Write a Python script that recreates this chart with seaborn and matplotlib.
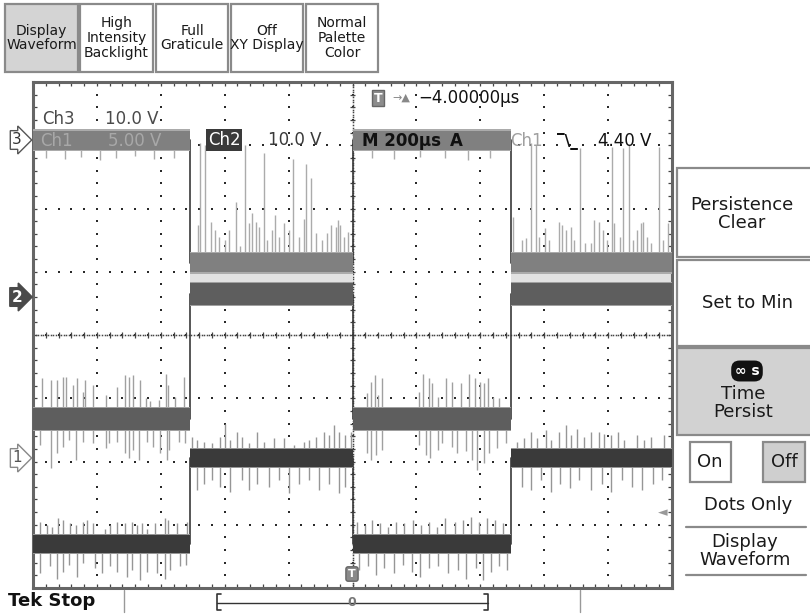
import numpy as np
import pandas as pd
import matplotlib
matplotlib.use("Agg")
import matplotlib.pyplot as plt
from matplotlib.patches import Rectangle
import seaborn as sns

sns.set_theme(style="white")
plt.rcParams['font.family'] = ['DejaVu Sans']

# --- data (time in us, amplitude in divisions) ---
seg_edges_us = [-1000, -510, 0, 495, 1000]
ch3_levels = [3.08, 1.14, 3.08, 1.14]
ch2_levels = [-1.33, 0.65, -1.33, 0.65]
ch1_levels = [-3.30, -1.94, -3.30, -1.94]

# spikes: (time us, tip in divisions)
ch3_spikes = [(-484, 1.74), (-476, 3.03), (-463, 3.00), (-442, 1.79), (-429, 1.66), (-419, 1.55),
              (-400, 1.50), (-388, 1.66), (-365, 2.11), (-351, 1.40), (-338, 3.00), (-325, 1.77),
              (-314, 1.93), (-302, 1.79), (-294, 1.71), (-278, 2.87), (-268, 1.50), (-252, 1.66),
              (-244, 1.90), (-231, 1.55), (-213, 1.77), (-200, 1.66), (-187, 2.79), (-168, 1.55),
              (-153, 1.84), (-145, 2.71), (-129, 2.48), (-114, 1.61), (-95, 1.50), (-79, 1.61),
              (-67, 1.74), (-53, 1.71), (-46, 1.82), (-38, 1.74), (-27, 1.55), (-15, 1.63),
              (501, 1.87), (530, 1.50), (544, 1.53), (558, 3.03), (574, 3.00), (584, 1.55),
              (603, 1.69), (616, 1.50), (647, 1.79), (655, 1.74), (668, 1.66), (683, 1.71),
              (694, 1.50), (712, 2.95), (728, 1.45), (746, 1.45), (757, 1.82), (772, 1.79),
              (785, 1.66), (798, 1.50), (812, 2.98), (819, 1.77), (837, 1.55), (848, 2.95),
              (864, 3.00), (877, 1.50), (889, 1.66), (903, 1.77), (908, 1.79), (921, 1.55),
              (934, 1.45), (958, 2.98), (971, 1.50), (987, 1.77),
              (-960, 2.80), (-900, 2.78), (-850, 2.82), (-790, 2.76), (-740, 2.80), (-680, 2.83),
              (-620, 2.78), (-560, 2.80), (60, 2.80), (130, 2.78), (210, 2.82), (290, 2.80),
              (360, 2.77), (430, 2.80)]

ch2_spikes = [(-973, -0.68), (-945, -0.71), (-924, -0.71), (-907, -0.66), (-897, -0.66), (-876, -0.79),
              (-863, -0.68), (-844, -0.90), (-837, -0.71), (-813, -0.79), (-771, -0.95), (-736, -0.82),
              (-712, -0.63), (-701, -0.66), (-688, -0.63), (-665, -0.71), (-646, -1.00), (-633, -1.05),
              (-607, -1.03), (-583, -0.61), (-576, -0.79), (-555, -0.98), (-527, -0.66),
              (-978, -1.74), (-945, -2.11), (-924, -1.87), (-907, -1.77), (-886, -1.66), (-865, -1.98),
              (-842, -1.69), (-813, -1.71), (-771, -1.79), (-761, -1.71), (-736, -1.69), (-712, -1.87),
              (-698, -1.95), (-686, -1.82), (-667, -1.98), (-642, -1.69), (-625, -1.77), (-602, -1.87),
              (-581, -1.98), (-573, -1.82), (-544, -1.69), (-524, -1.71),
              (46, -0.92), (58, -0.74), (69, -0.63), (79, -0.95), (93, -0.68), (208, -0.90),
              (222, -0.61), (239, -0.68), (250, -0.76), (268, -0.98), (292, -0.68), (312, -0.74),
              (339, -0.76), (365, -0.61), (382, -0.68), (399, -0.74), (412, -0.76), (424, -0.68),
              (441, -0.98), (459, -1.00),
              (46, -1.87), (58, -1.98), (75, -1.90), (93, -1.82), (208, -1.74), (229, -1.90),
              (244, -1.95), (268, -1.82), (281, -1.71), (312, -1.77), (328, -1.87), (354, -1.84),
              (375, -1.98), (391, -2.13), (412, -2.03), (427, -1.87), (453, -1.79), (480, -1.71)]

ch1_spikes = [(-503, -1.61), (-487, -1.66), (-466, -1.69), (-440, -1.71), (-414, -1.61), (-398, -1.40),
              (-382, -1.66), (-362, -1.53), (-346, -1.61), (-325, -1.71), (-299, -1.53), (-278, -1.69),
              (-247, -1.63), (-215, -1.63), (-184, -1.74), (-153, -1.69), (-137, -1.66), (-113, -1.61),
              (-90, -1.53), (-74, -1.58), (-58, -1.42), (-43, -1.53), (-22, -1.58), (-6, -1.53),
              (-487, -2.45), (-466, -2.35), (-440, -2.30), (-414, -2.40), (-382, -2.48), (-346, -2.30),
              (-325, -2.45), (-299, -2.35), (-262, -2.40), (-231, -2.30), (-200, -2.50), (-168, -2.35),
              (-137, -2.30), (-105, -2.45), (-74, -2.35), (-43, -2.50), (-22, -2.40),
              (516, -1.69), (537, -1.63), (558, -1.53), (579, -1.63), (605, -1.50), (621, -1.66),
              (647, -1.53), (668, -1.42), (683, -1.58), (704, -1.48), (725, -1.61), (746, -1.53),
              (772, -1.53), (788, -1.56), (809, -1.58), (830, -1.53), (851, -1.66), (890, -1.58),
              (913, -1.66), (934, -1.61), (976, -1.58),
              (530, -2.40), (560, -2.45), (590, -2.30), (620, -2.48), (650, -2.35), (680, -2.42),
              (710, -2.30), (745, -2.45), (780, -2.35), (810, -2.48), (845, -2.30), (875, -2.40),
              (905, -2.45), (940, -2.35), (970, -2.30),
              (-978, -2.95), (-957, -3.00), (-942, -3.03), (-921, -2.90), (-905, -2.92), (-884, -2.98),
              (-865, -3.00), (-842, -2.95), (-830, -2.92), (-811, -2.98), (-774, -3.06), (-759, -3.00),
              (-736, -2.95), (-712, -2.98), (-691, -2.95), (-675, -3.00), (-659, -2.98), (-644, -3.06),
              (-618, -2.98), (-586, -2.90), (-579, -2.92), (-550, -2.98), (-518, -2.95),
              (-978, -3.77), (-947, -3.66), (-924, -3.85), (-905, -3.74), (-886, -3.64), (-863, -3.82),
              (-842, -3.61), (-806, -3.69), (-785, -3.77), (-759, -3.66), (-736, -3.74), (-706, -3.82),
              (-691, -3.72), (-665, -3.87), (-644, -3.74), (-612, -3.77), (-586, -3.85), (-571, -3.72),
              (-539, -3.66), (-520, -3.64),
              (15, -2.95), (40, -3.00), (62, -2.92), (85, -2.98), (110, -3.03), (135, -2.95),
              (160, -2.98), (190, -2.92), (215, -3.00), (240, -2.95), (265, -3.03), (290, -2.90),
              (320, -2.95), (345, -2.92), (370, -2.88), (395, -2.95), (420, -2.90), (445, -2.92),
              (470, -2.98),
              (20, -3.72), (48, -3.66), (75, -3.80), (100, -3.69), (130, -3.77), (158, -3.64),
              (185, -3.74), (210, -3.82), (240, -3.69), (268, -3.66), (300, -3.77), (330, -3.72),
              (355, -3.85), (385, -3.69), (410, -3.87), (435, -3.74), (460, -3.66), (485, -3.72)]

# top menu labels (as they sit on screen, top line first)
top_menu = ["Display\nWaveform", "High\nIntensity\nBacklight", "Full\nGraticule",
            "Off\nXY Display", "Normal\nPalette\nColor"]

# --- styling ---
W, H = 810, 615
style = {
    "Ch3": dict(band="#808080", spike="#ababab", half=0.15),
    "Ch2": dict(band="#5e5e5e", spike="#a0a0a0", half=0.17),
    "Ch1": dict(band="#3a3a3a", spike="#969696", half=0.14),
}
channels = {"Ch3": (ch3_levels, ch3_spikes), "Ch2": (ch2_levels, ch2_spikes),
            "Ch1": (ch1_levels, ch1_spikes)}

fig = plt.figure(figsize=(W / 100, H / 100), dpi=100)
fig.patch.set_facecolor("white")
ax = fig.add_axes([33 / W, 1 - 588 / H, (672 - 33) / W, (588 - 82) / H])
ax.set_xlim(-1000, 1000)
ax.set_ylim(-4, 4)

# graticule (dotted majors, ticked centre cross)
major_x = np.arange(-1000, 1001, 200)
major_y = np.arange(-4, 5, 1)
minor_x = np.arange(-1000, 1001, 40)
minor_y = np.arange(-4, 4.01, 0.2)
dot = dict(ls="none", marker="s", ms=1.7, mew=0, color="#2a2a2a", zorder=1)
for xk in major_x[1:-1]:
    ax.plot(np.full_like(minor_y, xk), minor_y, **dot)
for yk in major_y[1:-1]:
    ax.plot(minor_x, np.full(len(minor_x), float(yk)), **dot)
fine = dict(ls="none", marker="s", ms=1.1, mew=0, color="#444", zorder=1)
ax.plot(np.arange(-1000, 1001, 8), np.zeros(251), **fine)
ax.plot(np.zeros(201), np.arange(-4, 4.01, 0.04), **fine)
ax.vlines(minor_x, -0.05, 0.05, color="#444", lw=0.9, zorder=1)
ax.hlines(minor_y, -8, 8, color="#444", lw=0.9, zorder=1)

ax.set_xticks(minor_x)
ax.set_yticks(minor_y)
ax.tick_params(direction="in", length=3, width=0.9, colors="#444", top=True, right=True,
               bottom=True, left=True, labelbottom=False, labelleft=False)
for sp in ax.spines.values():
    sp.set_color("#666")
    sp.set_linewidth(2.2)

# waveforms: step traces through seaborn, bands and glitches on top
rows = []
for name, (levels, _) in channels.items():
    for i, lv in enumerate(levels):
        rows.append((name, seg_edges_us[i], lv))
        rows.append((name, seg_edges_us[i + 1], lv))
wave = pd.DataFrame(rows, columns=["ch", "t", "v"])
sns.lineplot(data=wave, x="t", y="v", hue="ch", palette={k: "#3a3a3a" for k in channels},
             estimator=None, sort=False, legend=False, lw=1.2, ax=ax, zorder=2)

for name, (levels, spikes) in channels.items():
    st = style[name]
    sp = np.array(spikes, dtype=float)
    seg = np.clip(np.searchsorted(seg_edges_us, sp[:, 0], side="right") - 1, 0, 3)
    base = np.array(levels)[seg]
    ax.vlines(sp[:, 0], base, sp[:, 1], color=st["spike"], lw=1.0, zorder=2.5)
    for i, lv in enumerate(levels):
        t0, t1 = seg_edges_us[i], seg_edges_us[i + 1]
        ax.fill_between([t0, t1], lv - st["half"] - 0.02, lv + st["half"] + 0.02,
                        color=st["spike"], lw=0, zorder=3)
        ax.fill_between([t0, t1], lv - st["half"], lv + st["half"], color=st["band"], lw=0, zorder=4)

# pale fuzz between Ch3 low and Ch2 high
for i in (1, 3):
    ax.fill_between([seg_edges_us[i], seg_edges_us[i + 1]],
                    ch2_levels[i] + style["Ch2"]["half"], ch3_levels[i] - style["Ch3"]["half"],
                    color="#e2e2e2", lw=0, zorder=2.2)


def px(x, y):
    return x / W, 1 - y / H


def box(x0, y0, x1, y1, fc="white", ec="#8a8a8a", lw=1.6):
    fig.add_artist(Rectangle(px(x0, y1), (x1 - x0) / W, (y1 - y0) / H, transform=fig.transFigure,
                             fc=fc, ec=ec, lw=lw, zorder=0))


def label(x, y, s, size=12, color="#1a1a1a", ha="center", **kw):
    fig.text(*px(x, y), s, ha=ha, va="center", fontsize=size, color=color, **kw)


# top menu buttons
btn_x = [(5, 78), (80, 153), (156, 228), (231, 303), (306, 378)]
for (x0, x1), txt, fc in zip(btn_x, top_menu, ["#d4d4d4"] + ["white"] * 4):
    box(x0, 4, x1, 72, fc=fc)
    label((x0 + x1) / 2, 38, txt, size=10, linespacing=1.05)

# right menu
box(677, 168, 812, 257)
label(742, 214, "Persistence\nClear", size=13, linespacing=1.0)
box(677, 260, 812, 346)
label(748, 303, "Set to Min", size=13)
box(677, 348, 812, 435, fc="#d2d2d2")
label(747, 371, "\u221e s", size=10, color="white", fontweight="bold",
      bbox=dict(boxstyle="round,pad=0.25,rounding_size=0.6", fc="#111", ec="none"))
label(743, 403, "Time\nPersist", size=13, linespacing=0.95)
box(690, 442, 731, 482)
label(710, 462, "On", size=13)
box(763, 442, 805, 482, fc="#cfcfcf")
label(784, 462, "Off", size=13)
label(748, 505, "Dots Only", size=13)
fig.add_artist(plt.Line2D([686 / W, 806 / W], [1 - 527 / H] * 2, color="#8a8a8a", lw=1.6))
label(745, 551, "Display\nWaveform", size=13, linespacing=0.95)
fig.add_artist(plt.Line2D([686 / W, 806 / W], [1 - 575 / H] * 2, color="#8a8a8a", lw=1.6))

# readouts on the graticule
label(42, 119, "Ch3", color="#4a4a4a", ha="left")
label(105, 119, "10.0 V", color="#4a4a4a", ha="left")
label(40, 141, "Ch1", color="#a8a8a8", ha="left")
label(108, 141, "5.00 V", color="#a8a8a8", ha="left")
label(224, 140, "Ch2", color="white", bbox=dict(boxstyle="square,pad=0.12", fc="#3a3a3a", ec="none"))
label(268, 140, "10.0 V", color="#3a3a3a", ha="left")
label(362, 141, "M 200\u00b5s", color="#111", ha="left", fontweight="bold")
label(456, 141, "A", color="#111", fontweight="bold")
label(510, 141, "Ch1", color="#a0a0a0", ha="left")
label(567, 141, "\u203e\\_", size=11, color="#111", fontweight="bold")
label(598, 141, "4.40 V", color="#111", ha="left")
label(378, 98, "T", size=9, color="white", fontweight="bold",
      bbox=dict(boxstyle="square,pad=0.15", fc="#8c8c8c", ec="#666"))
label(401, 98, "\u2192\u25b2", size=8, color="#888")
label(418, 98, "\u22124.00000\u00b5s", color="#111", ha="left")

# channel markers on the left
label(17, 140, "3", size=11, color="#333",
      bbox=dict(boxstyle="rarrow,pad=0.12", fc="white", ec="#555", lw=1))
label(17, 297, "2", size=11, color="white", fontweight="bold",
      bbox=dict(boxstyle="rarrow,pad=0.12", fc="#4a4a4a", ec="#4a4a4a", lw=1))
label(17, 458, "1", size=11, color="#555",
      bbox=dict(boxstyle="rarrow,pad=0.12", fc="white", ec="#888", lw=1))

# trigger markers
label(352, 574, "T", size=8, color="white", fontweight="bold",
      bbox=dict(boxstyle="round,pad=0.2", fc="#8a8a8a", ec="#666"))
label(663, 513, "\u25c4", size=9, color="#999")

# bottom status line
label(8, 601, "Tek Stop", size=13, color="#111", ha="left", fontweight="bold")
for xs in (124, 580):
    fig.add_artist(plt.Line2D([xs / W] * 2, [1 - 590 / H, 1 - 612 / H], color="#999", lw=1))
fig.add_artist(plt.Line2D([217 / W, 488 / W], [1 - 603 / H] * 2, color="#333", lw=1))
for xb, d in ((217, 4), (488, -4)):
    fig.add_artist(plt.Line2D([(xb + d) / W, xb / W, xb / W, (xb + d) / W],
                              [1 - 594 / H, 1 - 594 / H, 1 - 610 / H, 1 - 610 / H], color="#333", lw=1.2))
label(352, 602, "0", size=9, color="#777", fontweight="bold")

fig.savefig("out.png", dpi=100)
